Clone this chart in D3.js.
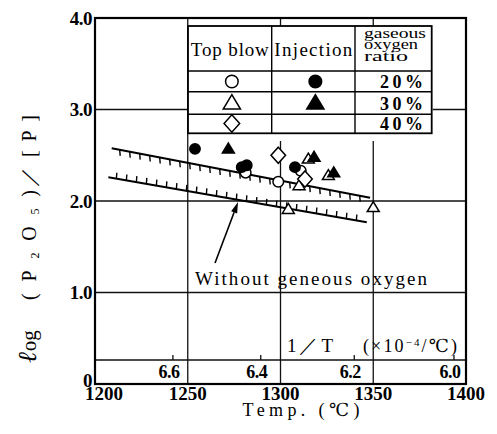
<!DOCTYPE html>
<html><head><meta charset="utf-8">
<script src="https://cdn.jsdelivr.net/npm/d3@7"></script>
<style>body{margin:0;background:#fff}svg{display:block}</style>
</head><body>
<svg id="c" width="497" height="434"></svg>
<script>
// ---------------- data ----------------
const tempTicks = [1200, 1250, 1300, 1350, 1400];
const valueTicks = [0, 1, 2, 3, 4];
const valueTickLabels = ["0", "1.0", "2.0", "3.0", "4.0"];
const invTTicks = [6.6, 6.4, 6.2, 6.0];          // 1/T (x10^-4 /K)
const invTLabels = ["6.6", "6.4", "6.2", "6.0"];

// [temperature °C, log (P2O5)/[P]]
const topBlow20 = [[1281.2, 2.31], [1298.8, 2.21], [1310.9, 2.33]];
const injection20 = [[1253.9, 2.57], [1279.1, 2.37], [1281.8, 2.39], [1307.8, 2.37]];
const topBlow30 = [[1315.0, 2.46], [1325.8, 2.28], [1310.0, 2.17], [1304.2, 1.91], [1350.0, 1.93]];
const injection30 = [[1271.9, 2.57], [1318.1, 2.48], [1328.7, 2.31]];
const topBlow40 = [[1298.8, 2.50], [1313.2, 2.24]];

// hatched lines
const upperLine = [[1209.0, 2.576], [1348.3, 2.036]];
const lowerLine = [[1207.2, 2.259], [1346.5, 1.767]];
// arrow: tail -> tip
const arrowPts = [[1264.7, 1.322], [1277.1, 1.989]];
const annotationPos = [1253.9, 1.082];
const annotationText = "Without geneous oxygen";

const legendHeaders = ["Top blow", "Injection"];
const legendRatioHead = ["gaseous", "oxygen", "ratio"];
const legendRatios = ["20%", "30%", "40%"];
const legendTop = ["circle", "triangle", "diamond"];
const legendInj = ["circle", "triangle", null];

// ---------------- layout ----------------
const W = 497, H = 434;
const m = {left: 95, top: 18, right: 31, bottom: 50};
const serif = "'Liberation Serif','DejaVu Serif',serif";
const svg = d3.select("#c");
const x = d3.scaleLinear().domain([1200, 1400]).range([m.left, W - m.right]);
const y = d3.scaleLinear().domain([0, 4]).range([H - m.bottom, m.top]);
const x0 = x.range()[0], x1 = x.range()[1], yb = y.range()[0], yt = y.range()[1];
const bandY = yb - 24;

// gridlines
const grid = svg.append("g").attr("stroke", "#111").attr("stroke-width", 1.3);
grid.selectAll("line.v").data(tempTicks.slice(1, -1)).join("line")
  .attr("x1", d => x(d)).attr("x2", d => x(d)).attr("y1", yt).attr("y2", yb);
grid.selectAll("line.h").data(valueTicks.slice(1, -1)).join("line")
  .attr("x1", x0).attr("x2", x1).attr("y1", d => y(d)).attr("y2", d => y(d));
grid.append("line").attr("x1", x0).attr("x2", x1).attr("y1", bandY).attr("y2", bandY);

// secondary axis 1/T
const invToTemp = v => 1e4 / v - 273.15;
svg.append("g").attr("stroke", "#111").attr("stroke-width", 1.3)
  .selectAll("line").data(invTTicks).join("line")
  .attr("x1", d => x(invToTemp(d))).attr("x2", d => x(invToTemp(d)))
  .attr("y1", bandY).attr("y2", bandY - 5);
svg.append("g").selectAll("text").data(invTTicks).join("text")
  .attr("x", d => x(invToTemp(d)) - 4).attr("y", bandY + 18)
  .attr("text-anchor", "middle").attr("font-family", serif).attr("font-weight", "bold")
  .attr("font-size", 18).attr("letter-spacing", -0.5).text((d, i) => invTLabels[i]);
svg.append("text").attr("x", 287).attr("y", bandY - 8).attr("font-family", serif)
  .attr("font-size", 19).attr("textLength", 46).attr("lengthAdjust", "spacing").text("1／T");
const invLab = svg.append("text").attr("x", 363).attr("y", bandY - 8).attr("font-family", serif)
  .attr("font-size", 18).attr("textLength", 94).attr("lengthAdjust", "spacing");
invLab.append("tspan").text("(×10");
invLab.append("tspan").attr("dy", -6).attr("font-size", 11).text("−4");
invLab.append("tspan").attr("dy", 6).text("/℃)");

// frame
svg.append("rect").attr("x", x0).attr("y", yt).attr("width", x1 - x0).attr("height", yb - yt)
  .attr("fill", "none").attr("stroke", "#000").attr("stroke-width", 2.2);

// tick labels
svg.append("g").selectAll("text").data(valueTicks).join("text")
  .attr("x", x0 - 3).attr("y", d => y(d) - (d === 0 ? 4 : 0)).attr("dy", "0.35em")
  .attr("text-anchor", "end").attr("font-family", serif).attr("font-weight", "bold")
  .attr("font-size", 19).attr("letter-spacing", -0.5)
  .text((d, i) => valueTickLabels[i]);
svg.append("g").selectAll("text").data(tempTicks).join("text")
  .attr("x", (d, i) => x(d) + (i === 0 ? 9 : 0)).attr("y", yb + 16)
  .attr("text-anchor", "middle").attr("font-family", serif).attr("font-weight", "bold")
  .attr("font-size", 19).text(d => d);

// axis titles
svg.append("text").attr("x", 301).attr("y", 416).attr("text-anchor", "middle")
  .attr("font-family", serif).attr("font-size", 18).attr("textLength", 117)
  .attr("lengthAdjust", "spacing").text("Temp. (℃)");
const yl = svg.append("g").attr("transform", "translate(36,0) rotate(-90)")
  .attr("font-family", serif).attr("font-size", 20);
// pieces: [start (page y), length]
const ylPieces = [[363, null], [300, 110], [187, 28], [157, 42]];
ylPieces.forEach(([start, len], i) => {
  const tx = yl.append("text").attr("x", -start).attr("y", 0);
  if (len) tx.attr("textLength", len).attr("lengthAdjust", "spacing");
  if (i === 0) {
    tx.append("tspan").attr("font-style", "italic").attr("font-size", 26).text("ℓ");
    tx.append("tspan").attr("font-size", 21).attr("dx", 1).text("og");
  } else if (i === 1) {
    tx.append("tspan").text("(P");
    tx.append("tspan").attr("font-size", 12).attr("dy", 3).text("2");
    tx.append("tspan").attr("dy", -3).text("O");
    tx.append("tspan").attr("font-size", 12).attr("dy", 3).text("5");
    tx.append("tspan").attr("dy", -3).text(")");
  } else tx.text(i === 2 ? "／" : "[P]");
});

// hatched lines
function hatched(pts, dir) {
  const p0 = [x(pts[0][0]), y(pts[0][1])], p1 = [x(pts[1][0]), y(pts[1][1])];
  const g = svg.append("g").attr("stroke", "#000");
  g.append("line").attr("x1", p0[0]).attr("y1", p0[1]).attr("x2", p1[0]).attr("y2", p1[1])
    .attr("stroke-width", 2);
  const slope = (p1[1] - p0[1]) / (p1[0] - p0[0]);
  const xs = d3.range(p0[0] + 8, p1[0] - 2, 10);
  g.selectAll("line.t").data(xs).join("line")
    .attr("x1", d => d).attr("y1", d => p0[1] + slope * (d - p0[0]))
    .attr("x2", d => d + 0.5).attr("y2", d => p0[1] + slope * (d - p0[0]) + dir * 6)
    .attr("stroke-width", 1.4);
}
hatched(upperLine, 1);
hatched(lowerLine, -1);

// arrow
{
  const a = [x(arrowPts[0][0]), y(arrowPts[0][1])], b = [x(arrowPts[1][0]), y(arrowPts[1][1])];
  const ang = Math.atan2(b[1] - a[1], b[0] - a[0]);
  const L = 11, hw = 3.2;
  const base = [b[0] - L * Math.cos(ang), b[1] - L * Math.sin(ang)];
  svg.append("line").attr("x1", a[0]).attr("y1", a[1]).attr("x2", base[0]).attr("y2", base[1])
    .attr("stroke", "#000").attr("stroke-width", 1.6);
  const px = -Math.sin(ang), py = Math.cos(ang);
  svg.append("path").attr("d", `M${b[0]},${b[1]}L${base[0] + px * hw},${base[1] + py * hw}L${base[0] - px * hw},${base[1] - py * hw}Z`)
    .attr("fill", "#000");
}
svg.append("text").attr("x", x(annotationPos[0])).attr("y", y(annotationPos[1]))
  .attr("font-family", serif).attr("font-size", 19).attr("textLength", 232)
  .attr("lengthAdjust", "spacing").text(annotationText);

// markers
function shapePath(type, s) {
  if (type === "circle") return `M${s},0A${s},${s} 0 1,1 ${-s},0A${s},${s} 0 1,1 ${s},0Z`;
  if (type === "triangle") { const w = s * 2.1, h = s * 1.75; return `M0,${-h * 0.58}L${w / 2},${h * 0.42}L${-w / 2},${h * 0.42}Z`; }
  if (type === "diamond") return `M0,${-s * 1.45}L${s * 1.3},0L0,${s * 1.45}L${-s * 1.3},0Z`;
}
const series = [
  {pts: topBlow20, type: "circle", filled: false, s: 5.3},
  {pts: topBlow30, type: "triangle", filled: false, s: 5.7},
  {pts: topBlow40, type: "diamond", filled: false, s: 5.6},
  {pts: injection20, type: "circle", filled: true, s: 5.2},
  {pts: injection30, type: "triangle", filled: true, s: 5.7}
];
series.forEach(sr => {
  svg.append("g").selectAll("path").data(sr.pts).join("path")
    .attr("transform", d => `translate(${x(d[0])},${y(d[1])})`)
    .attr("d", shapePath(sr.type, sr.s))
    .attr("fill", sr.filled ? "#000" : "#fff")
    .attr("stroke", "#000").attr("stroke-width", 1.5);
});

// legend table
const cols = [188, 271.7, 355, 431.7];
const rows = [26, 71, 91.7, 114.3, 133.3];
const lg = svg.append("g");
lg.append("rect").attr("x", 189).attr("y", rows[0]).attr("width", cols[3] - 189 + 1)
  .attr("height", 141 - rows[0]).attr("fill", "#fff");
lg.append("rect").attr("x", cols[0]).attr("y", rows[0]).attr("width", cols[3] - cols[0])
  .attr("height", rows[4] - rows[0]).attr("fill", "#fff").attr("stroke", "#000").attr("stroke-width", 1.8);
lg.selectAll("line.c").data(cols.slice(1, 3)).join("line")
  .attr("x1", d => d).attr("x2", d => d).attr("y1", rows[0]).attr("y2", rows[4])
  .attr("stroke", "#000").attr("stroke-width", 1.4);
lg.selectAll("line.r").data(rows.slice(1, 4)).join("line")
  .attr("x1", cols[0]).attr("x2", cols[3]).attr("y1", d => d).attr("y2", d => d)
  .attr("stroke", "#000").attr("stroke-width", 1.4);
const headW = [78, 78];
legendHeaders.forEach((t, i) => {
  lg.append("text").attr("x", (cols[i] + cols[i + 1]) / 2).attr("y", 56)
    .attr("text-anchor", "middle").attr("font-family", serif).attr("font-size", 19)
    .attr("textLength", headW[i]).attr("lengthAdjust", "spacing").text(t);
});
const rhW = [62, 54, 44];
legendRatioHead.forEach((t, i) => {
  lg.append("text").attr("x", 364).attr("y", 37.5 + i * 11.8).attr("font-family", serif)
    .attr("font-size", 14).attr("textLength", rhW[i]).attr("lengthAdjust", "spacingAndGlyphs").text(t);
});
const rowC = [81.5, 103, 123.5];
legendRatios.forEach((t, i) => {
  lg.append("text").attr("x", 380).attr("y", rowC[i] + 6.5).attr("font-family", serif)
    .attr("font-weight", "bold").attr("font-size", 18).attr("textLength", 43)
    .attr("lengthAdjust", "spacing").text(t);
  const sz = {circle: 6.3, triangle: 8.2, diamond: 6};
  if (legendTop[i]) lg.append("path").attr("transform", `translate(${(cols[0] + cols[1]) / 2 + 2},${rowC[i]})`)
    .attr("d", shapePath(legendTop[i], sz[legendTop[i]])).attr("fill", "#fff").attr("stroke", "#000").attr("stroke-width", 1.5);
  if (legendInj[i]) lg.append("path").attr("transform", `translate(${(cols[1] + cols[2]) / 2 + 2},${rowC[i]})`)
    .attr("d", shapePath(legendInj[i], sz[legendInj[i]])).attr("fill", "#000").attr("stroke", "#000").attr("stroke-width", 1.5);
});
</script>
</body></html>
